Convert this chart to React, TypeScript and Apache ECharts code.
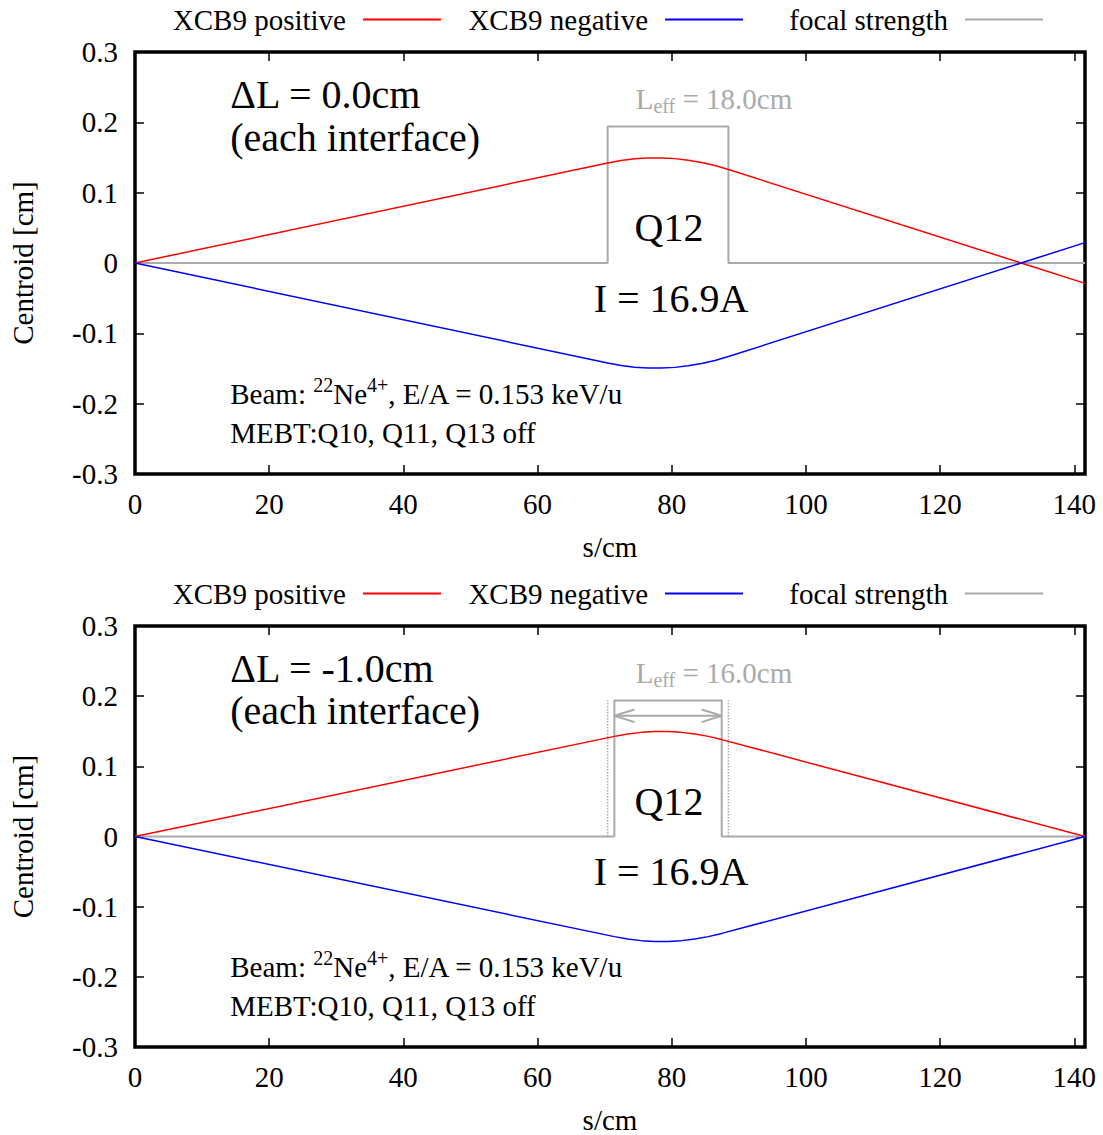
import React, { useEffect, useRef } from "react";
import * as echarts from "echarts";

// ---------- data ----------
const SERIES_NAMES = ["XCB9 positive", "XCB9 negative", "focal strength"];
const X_LABEL = "s/cm";
const Y_LABEL = "Centroid [cm]";
const X_MIN = 0;
const X_MAX = 141.6;
const X_INTERVAL = 20;
const Y_MIN = -0.3;
const Y_MAX = 0.3;
const Y_INTERVAL = 0.1;

// top panel: ΔL = 0.0cm
const topPositive: [number, number][] = [
  [0, 0], [70.45, 0.1422], [72.45, 0.1457], [74.45, 0.1481], [76.45, 0.1493], [78.45, 0.1494],
  [80.45, 0.1484], [82.45, 0.1462], [84.45, 0.143], [86.45, 0.1385], [88.45, 0.133], [141.6, -0.029],
];
const topNegative: [number, number][] = [
  [0, 0], [70.45, -0.1422], [72.45, -0.1457], [74.45, -0.1481], [76.45, -0.1493], [78.45, -0.1494],
  [80.45, -0.1484], [82.45, -0.1462], [84.45, -0.143], [86.45, -0.1385], [88.45, -0.133], [141.6, 0.029],
];
const topFocal: [number, number][] = [
  [0, 0], [70.45, 0], [70.45, 0.194], [88.45, 0.194], [88.45, 0], [141.6, 0],
];

// bottom panel: ΔL = -1.0cm
const bottomPositive: [number, number][] = [
  [0, 0], [71.45, 0.1427], [73.45, 0.1461], [75.45, 0.1484], [77.45, 0.1496], [79.45, 0.1496],
  [81.45, 0.1484], [83.45, 0.1461], [85.45, 0.1427], [87.45, 0.1381], [141.6, 0],
];
const bottomNegative: [number, number][] = [
  [0, 0], [71.45, -0.1427], [73.45, -0.1461], [75.45, -0.1484], [77.45, -0.1496], [79.45, -0.1496],
  [81.45, -0.1484], [83.45, -0.1461], [85.45, -0.1427], [87.45, -0.1381], [141.6, 0],
];
const bottomFocal: [number, number][] = [
  [0, 0], [71.45, 0], [71.45, 0.194], [87.45, 0.194], [87.45, 0], [141.6, 0],
];
const hardEdgeLeft: [number, number][] = [[70.45, 0], [70.45, 0.194]];
const hardEdgeRight: [number, number][] = [[88.45, 0], [88.45, 0.194]];
const arrowShaft: [number, number][] = [[71.45, 0.172], [87.45, 0.172]];
const arrowHeadLeft: [number, number][] = [[74.45, 0.181], [71.45, 0.172], [74.45, 0.163]];
const arrowHeadRight: [number, number][] = [[84.45, 0.181], [87.45, 0.172], [84.45, 0.163]];

// annotations
const DELTA_L = ["ΔL = 0.0cm", "ΔL = -1.0cm"];
const INTERFACE_TEXT = "(each interface)";
const LEFF_VALUE = ["18.0cm", "16.0cm"];
const QUAD_NAME = "Q12";
const CURRENT_TEXT = "I = 16.9A";
const MEBT_TEXT = "MEBT:Q10, Q11, Q13 off";

// ---------- layout / style ----------
const W = 1103;
const H = 1135;
const FONT = '"Liberation Serif", "Times New Roman", serif';
const FS = 29;
const BIG = 40;
const GRID_LEFT = 134;
const GRID_WIDTH = 951;
const GRID_HEIGHT = 422;
const GRID_TOPS = [52, 626];
const LEGEND_TOPS = [5, 579];
const LEGEND_LINE_ENDS = [441, 743, 1043];
const RED = "#ff0000";
const BLUE = "#0000ff";
const GRAY = "#aaaaaa";

function buildOption() {
  const grids = GRID_TOPS.map((t) => ({
    left: GRID_LEFT,
    top: t,
    width: GRID_WIDTH,
    height: GRID_HEIGHT,
    show: true,
    borderColor: "#000",
    borderWidth: 3.5,
    backgroundColor: "transparent",
    containLabel: false,
  }));

  const tickStyle = { show: true, inside: true, length: 9, lineStyle: { color: "#000", width: 1.5 } };
  const noLine = { show: false, onZero: false };
  const xAxes: any[] = [];
  const yAxes: any[] = [];
  GRID_TOPS.forEach((_, g) => {
    xAxes.push({
      type: "value",
      gridIndex: g,
      position: "bottom",
      min: X_MIN,
      max: X_MAX,
      interval: X_INTERVAL,
      name: X_LABEL,
      nameLocation: "middle",
      nameGap: 58,
      nameTextStyle: { fontSize: FS, fontFamily: FONT, color: "#000" },
      axisLine: noLine,
      axisTick: tickStyle,
      splitLine: { show: false },
      axisLabel: {
        fontSize: FS,
        fontFamily: FONT,
        color: "#000",
        margin: 15,
        formatter: (v: number) => (v % X_INTERVAL === 0 ? String(v) : ""),
      },
    });
    xAxes.push({
      type: "value",
      gridIndex: g,
      position: "top",
      min: X_MIN,
      max: X_MAX,
      interval: X_INTERVAL,
      axisLine: noLine,
      axisTick: tickStyle,
      splitLine: { show: false },
      axisLabel: { show: false },
    });
    yAxes.push({
      type: "value",
      gridIndex: g,
      position: "left",
      min: Y_MIN,
      max: Y_MAX,
      interval: Y_INTERVAL,
      name: Y_LABEL,
      nameLocation: "middle",
      nameGap: 98,
      nameTextStyle: { fontSize: FS, fontFamily: FONT, color: "#000" },
      axisLine: noLine,
      axisTick: tickStyle,
      splitLine: { show: false },
      axisLabel: {
        fontSize: FS,
        fontFamily: FONT,
        color: "#000",
        margin: 17,
        formatter: (v: number) => (Math.abs(v) < 1e-9 ? "0" : v.toFixed(1)),
      },
    });
    yAxes.push({
      type: "value",
      gridIndex: g,
      position: "right",
      min: Y_MIN,
      max: Y_MAX,
      interval: Y_INTERVAL,
      axisLine: noLine,
      axisTick: tickStyle,
      splitLine: { show: false },
      axisLabel: { show: false },
    });
  });

  const line = (name: string, data: [number, number][], g: number, color: string, width: number, z: number, type = "solid") => ({
    type: "line",
    name,
    data,
    xAxisIndex: g * 2,
    yAxisIndex: g * 2,
    showSymbol: false,
    symbol: "none",
    color,
    itemStyle: { color },
    lineStyle: { color, width, type },
    z,
    silent: true,
  });

  const series: any[] = [
    // panel 0 (indices 0..2)
    line(SERIES_NAMES[2], topFocal, 0, GRAY, 2, 1),
    line(SERIES_NAMES[0], topPositive, 0, RED, 1.5, 3),
    line(SERIES_NAMES[1], topNegative, 0, BLUE, 1.5, 3),
    // panel 1 (indices 3..10)
    line(SERIES_NAMES[2], bottomFocal, 1, GRAY, 2, 1),
    line("hard edge (in)", hardEdgeLeft, 1, GRAY, 1.5, 1, "dotted"),
    line("hard edge (out)", hardEdgeRight, 1, GRAY, 1.5, 1, "dotted"),
    line("Leff arrow", arrowShaft, 1, GRAY, 2, 1),
    line("Leff arrow head in", arrowHeadLeft, 1, GRAY, 2, 1),
    line("Leff arrow head out", arrowHeadRight, 1, GRAY, 2, 1),
    line(SERIES_NAMES[0], bottomPositive, 1, RED, 1.5, 3),
    line(SERIES_NAMES[1], bottomNegative, 1, BLUE, 1.5, 3),
  ];

  const legends: any[] = [];
  LEGEND_TOPS.forEach((top) => {
    SERIES_NAMES.forEach((n, i) => {
      legends.push({
        data: [n],
        top,
        right: W - LEGEND_LINE_ENDS[i],
        orient: "horizontal",
        align: "right",
        icon: "rect",
        itemWidth: 78,
        itemHeight: 2,
        padding: 0,
        selectedMode: false,
        textStyle: { fontSize: FS, fontFamily: FONT, color: "#000", padding: [0, 12, 0, 0] },
      });
    });
  });

  return {
    animation: false,
    backgroundColor: "#fff",
    textStyle: { fontFamily: FONT },
    grid: grids,
    xAxis: xAxes,
    yAxis: yAxes,
    legend: legends,
    series,
  };
}

function buildGraphics(chart: any) {
  const els: any[] = [];
  const px = (p: number, s: number, y: number) =>
    chart.convertToPixel({ seriesIndex: p === 0 ? 1 : 9 }, [s, y]) as number[];
  [0, 1].forEach((p) => {
    const a = px(p, 14.2, 0.239);
    els.push({
      type: "text", x: a[0], y: a[1], silent: true,
      style: { text: DELTA_L[p], fontSize: BIG, fontFamily: FONT, fill: "#000", align: "left", verticalAlign: "middle" },
    });
    const b = px(p, 14.2, 0.179);
    els.push({
      type: "text", x: b[0], y: b[1], silent: true,
      style: { text: INTERFACE_TEXT, fontSize: BIG, fontFamily: FONT, fill: "#000", align: "left", verticalAlign: "middle" },
    });
    const c = px(p, 86.3, 0.233);
    els.push({
      type: "text", x: c[0], y: c[1], silent: true,
      style: {
        text: `{m|L}{s|eff}{m| = ${LEFF_VALUE[p]}}`,
        align: "center", verticalAlign: "middle",
        rich: {
          m: { fontSize: 29, fontFamily: FONT, fill: GRAY, color: GRAY },
          s: { fontSize: 20, fontFamily: FONT, fill: GRAY, color: GRAY, padding: [14, 0, 0, 0] },
        },
      },
    });
    const d = px(p, 79.6, 0.05);
    els.push({
      type: "text", x: d[0], y: d[1], silent: true,
      style: { text: QUAD_NAME, fontSize: BIG, fontFamily: FONT, fill: "#000", align: "center", verticalAlign: "middle" },
    });
    const e = px(p, 79.9, -0.05);
    els.push({
      type: "text", x: e[0], y: e[1], silent: true,
      style: { text: CURRENT_TEXT, fontSize: BIG, fontFamily: FONT, fill: "#000", align: "center", verticalAlign: "middle" },
    });
    const f = px(p, 14.2, -0.186);
    els.push({
      type: "text", x: f[0], y: f[1], silent: true,
      style: {
        text: "{n|Beam: }{u|22}{n|Ne}{u|4+}{n|, E/A = 0.153 keV/u}",
        align: "left", verticalAlign: "middle",
        rich: {
          n: { fontSize: FS, fontFamily: FONT, fill: "#000", color: "#000" },
          u: { fontSize: 20, fontFamily: FONT, fill: "#000", color: "#000", padding: [0, 0, 18, 0] },
        },
      },
    });
    const h = px(p, 14.2, -0.242);
    els.push({
      type: "text", x: h[0], y: h[1], silent: true,
      style: { text: MEBT_TEXT, fontSize: FS, fontFamily: FONT, fill: "#000", align: "left", verticalAlign: "middle" },
    });
  });
  return els;
}

export default function App() {
  const ref = useRef<HTMLDivElement>(null);
  useEffect(() => {
    if (!ref.current) return;
    const chart = echarts.init(ref.current, null, { renderer: "svg" });
    chart.setOption(buildOption() as any);
    chart.setOption({ graphic: buildGraphics(chart) } as any);
    return () => chart.dispose();
  }, []);
  return <div ref={ref} style={{ position: "absolute", left: 0, top: 0, width: W, height: H, background: "#fff" }} />;
}
